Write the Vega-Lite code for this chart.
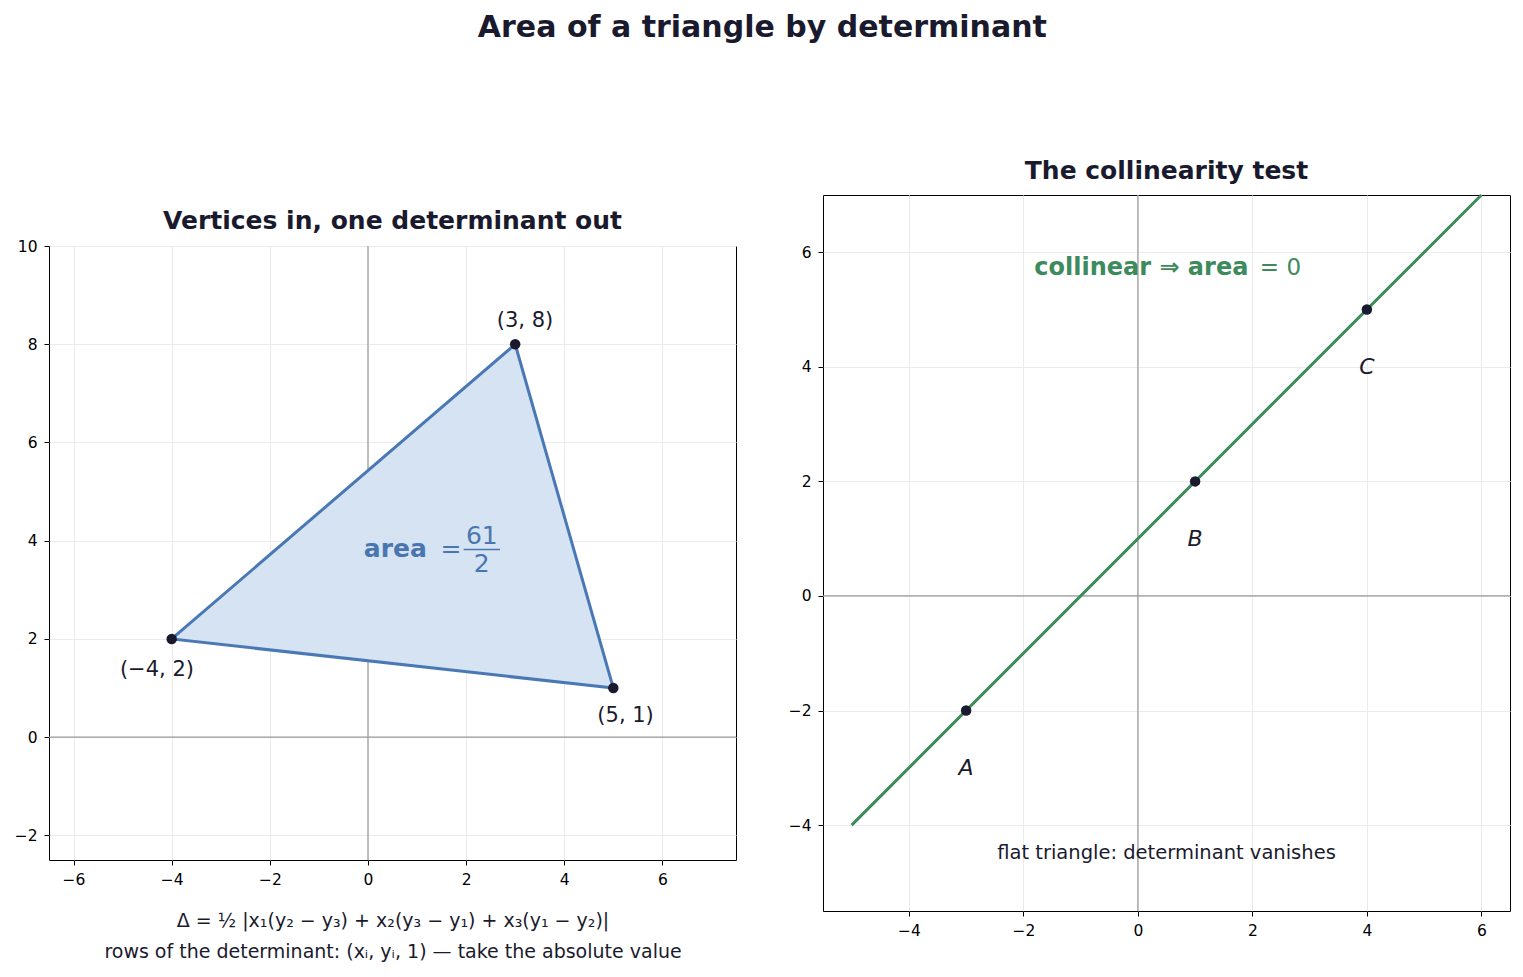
{
  "$schema": "https://vega.github.io/schema/vega-lite/v6.json",
  "background": "white",
  "padding": {"left": 13, "top": 12, "right": 10, "bottom": 10},
  "title": {
    "text": "Area of a triangle by determinant",
    "fontSize": 30,
    "fontWeight": "bold",
    "font": "DejaVu Sans",
    "color": "#1a1a2e",
    "anchor": "middle",
    "offset": 116
  },
  "config": {
    "font": "DejaVu Sans",
    "view": {"stroke": "black", "strokeWidth": 1},
    "axis": {
      "domain": false,
      "grid": true,
      "gridColor": "#ebebeb",
      "tickColor": "black",
      "tickSize": 5,
      "labelColor": "black",
      "labelFontSize": 15.5,
      "labelFont": "DejaVu Sans",
      "labelPadding": 7,
      "format": "d",
      "titleColor": "#1a1a2e"
    },
    "title": {"font": "DejaVu Sans", "fontSize": 25, "fontWeight": "bold", "color": "#1a1a2e", "offset": 5}
  },
  "datasets": {
    "tri": [
      {"i": 1, "x": -4, "y": 2, "label": "(−4, 2)", "lx": -4.3, "ly": 1.36},
      {"i": 2, "x": 3, "y": 8, "label": "(3, 8)", "lx": 3.2, "ly": 8.47},
      {"i": 3, "x": 5, "y": 1, "label": "(5, 1)", "lx": 5.25, "ly": 0.43}
    ],
    "col": [
      {"x": -3, "y": -2, "label": "A", "lx": -3, "ly": -3},
      {"x": 1, "y": 2, "label": "B", "lx": 1, "ly": 1},
      {"x": 4, "y": 5, "label": "C", "lx": 4, "ly": 4}
    ],
    "line": [
      {"x": -5, "y": -4},
      {"x": 6, "y": 7}
    ]
  },
  "hconcat": [
    {
      "title": "Vertices in, one determinant out",
      "width": 687,
      "height": 614,
      "layer": [
        {
          "data": {"values": [{"v": 0}]},
          "mark": {"type": "rule", "color": "#999999", "strokeWidth": 1.2},
          "encoding": {"x": {"field": "v", "type": "quantitative"}}
        },
        {
          "data": {"values": [{"v": 0}]},
          "mark": {"type": "rule", "color": "#999999", "strokeWidth": 1.2},
          "encoding": {"y": {"field": "v", "type": "quantitative"}}
        },
        {
          "data": {"name": "tri"},
          "mark": {"type": "line", "interpolate": "linear-closed", "fill": "#d6e3f3", "stroke": "#4a78b5", "strokeWidth": 3},
          "encoding": {
            "x": {
              "field": "x", "type": "quantitative",
              "scale": {"domain": [-6.5, 7.5], "nice": false, "zero": false},
              "axis": {
                "values": [-6, -4, -2, 0, 2, 4, 6],
                "title": ["Δ = ½ |x₁(y₂ − y₃) + x₂(y₃ − y₁) + x₃(y₁ − y₂)|", "rows of the determinant: (xᵢ,  yᵢ,  1) — take the absolute value"],
                "titleFontSize": 19,
                "titleFontWeight": "normal",
                "titleLineHeight": 31,
                "titlePadding": 24
              }
            },
            "y": {
              "field": "y", "type": "quantitative",
              "scale": {"domain": [-2.5, 10], "nice": false, "zero": false},
              "axis": {"values": [-2, 0, 2, 4, 6, 8, 10], "title": null}
            },
            "order": {"field": "i", "type": "quantitative"}
          }
        },
        {
          "data": {"name": "tri"},
          "mark": {"type": "circle", "size": 110, "color": "#1a1a2e", "opacity": 1},
          "encoding": {
            "x": {"field": "x", "type": "quantitative"},
            "y": {"field": "y", "type": "quantitative"}
          }
        },
        {
          "data": {"name": "tri"},
          "mark": {"type": "text", "fontSize": 21, "color": "#1a1a2e"},
          "encoding": {
            "x": {"field": "lx", "type": "quantitative"},
            "y": {"field": "ly", "type": "quantitative"},
            "text": {"field": "label"}
          }
        },
        {
          "data": {"values": [{"x": 1.2, "y": 3.83, "t": "area"}]},
          "mark": {"type": "text", "fontSize": 25, "fontWeight": "bold", "color": "#4a76b0", "align": "right"},
          "encoding": {
            "x": {"field": "x", "type": "quantitative"},
            "y": {"field": "y", "type": "quantitative"},
            "text": {"field": "t"}
          }
        },
        {
          "data": {"values": [
            {"x": 1.69, "y": 3.83, "t": "="},
            {"x": 2.32, "y": 4.1, "t": "61"},
            {"x": 2.32, "y": 3.52, "t": "2"}
          ]},
          "mark": {"type": "text", "fontSize": 25, "color": "#4a76b0"},
          "encoding": {
            "x": {"field": "x", "type": "quantitative"},
            "y": {"field": "y", "type": "quantitative"},
            "text": {"field": "t"}
          }
        },
        {
          "data": {"values": [{"x": 1.95, "x2": 2.69, "y": 3.82}]},
          "mark": {"type": "rule", "color": "#4a76b0", "strokeWidth": 1.5},
          "encoding": {
            "x": {"field": "x", "type": "quantitative"},
            "x2": {"field": "x2"},
            "y": {"field": "y", "type": "quantitative"}
          }
        }
      ]
    },
    {
      "title": "The collinearity test",
      "width": 687,
      "height": 716,
      "layer": [
        {
          "data": {"values": [{"v": 0}]},
          "mark": {"type": "rule", "color": "#999999", "strokeWidth": 1.2},
          "encoding": {"x": {"field": "v", "type": "quantitative"}}
        },
        {
          "data": {"values": [{"v": 0}]},
          "mark": {"type": "rule", "color": "#999999", "strokeWidth": 1.2},
          "encoding": {"y": {"field": "v", "type": "quantitative"}}
        },
        {
          "data": {"name": "line"},
          "mark": {"type": "line", "color": "#3d8b5c", "strokeWidth": 3},
          "encoding": {
            "x": {
              "field": "x", "type": "quantitative",
              "scale": {"domain": [-5.5, 6.5], "nice": false, "zero": false},
              "axis": {"values": [-4, -2, 0, 2, 4, 6], "title": null}
            },
            "y": {
              "field": "y", "type": "quantitative",
              "scale": {"domain": [-5.5, 7], "nice": false, "zero": false},
              "axis": {"values": [-4, -2, 0, 2, 4, 6], "title": null}
            }
          }
        },
        {
          "data": {"name": "col"},
          "mark": {"type": "circle", "size": 110, "color": "#1a1a2e", "opacity": 1},
          "encoding": {
            "x": {"field": "x", "type": "quantitative"},
            "y": {"field": "y", "type": "quantitative"}
          }
        },
        {
          "data": {"name": "col"},
          "mark": {"type": "text", "fontSize": 22, "fontStyle": "italic", "color": "#1a1a2e"},
          "encoding": {
            "x": {"field": "lx", "type": "quantitative"},
            "y": {"field": "ly", "type": "quantitative"},
            "text": {"field": "label"}
          }
        },
        {
          "data": {"values": [{"x": 1.93, "y": 5.72, "t": "collinear ⇒ area"}]},
          "mark": {"type": "text", "fontSize": 24, "fontWeight": "bold", "color": "#3d8b5c", "align": "right"},
          "encoding": {
            "x": {"field": "x", "type": "quantitative"},
            "y": {"field": "y", "type": "quantitative"},
            "text": {"field": "t"}
          }
        },
        {
          "data": {"values": [{"x": 2.13, "y": 5.72, "t": "= 0"}]},
          "mark": {"type": "text", "fontSize": 23, "color": "#3d8b5c", "align": "left"},
          "encoding": {
            "x": {"field": "x", "type": "quantitative"},
            "y": {"field": "y", "type": "quantitative"},
            "text": {"field": "t"}
          }
        },
        {
          "data": {"values": [{"x": 0.5, "y": -4.48, "t": "flat triangle: determinant vanishes"}]},
          "mark": {"type": "text", "fontSize": 19.5, "color": "#1a1a2e"},
          "encoding": {
            "x": {"field": "x", "type": "quantitative"},
            "y": {"field": "y", "type": "quantitative"},
            "text": {"field": "t"}
          }
        }
      ]
    }
  ],
  "bounds": "flush",
  "center": true,
  "spacing": 87,
  "resolve": {"scale": {"x": "independent", "y": "independent"}}
}
